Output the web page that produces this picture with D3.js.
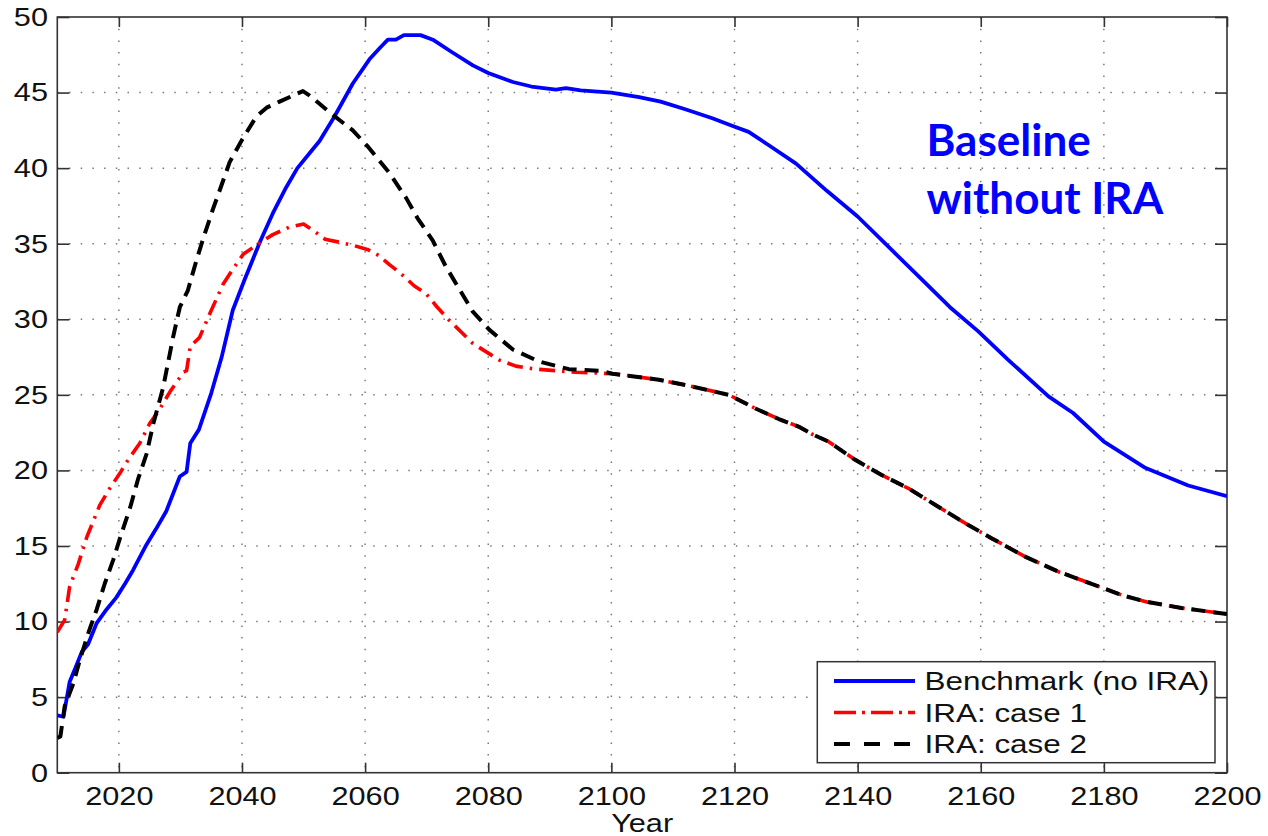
<!DOCTYPE html>
<html>
<head>
<meta charset="utf-8">
<script src="https://cdn.jsdelivr.net/npm/d3@7"></script>
<style>
  html, body { margin: 0; padding: 0; background: #fff; }
  svg { display: block; }
</style>
</head>
<body>
<svg id="chart" width="1268" height="836"></svg>
<script>
// ---------------- DATA ----------------
const xTickValues = [2020, 2040, 2060, 2080, 2100, 2120, 2140, 2160, 2180, 2200];
const yTickValues = [0, 5, 10, 15, 20, 25, 30, 35, 40, 45, 50];
const seriesNames = ["Benchmark (no IRA)", "IRA: case 1", "IRA: case 2"];
const xLabel = "Year";
const annotationLines = ["Baseline", "without IRA"];

const benchmarkYears = [2010, 2011, 2012, 2013, 2014, 2015, 2016.4, 2018, 2019.6, 2021, 2022.3, 2024.5, 2026, 2027.7, 2029.9, 2031, 2031.6, 2033, 2035, 2036.7, 2038.5, 2040.4, 2043, 2045, 2047, 2049, 2051, 2052.6, 2055, 2058, 2060.7, 2062.5, 2063.7, 2065, 2066.3, 2069, 2071, 2074, 2077.5, 2080, 2084, 2087, 2091, 2092.6, 2095, 2100, 2104.5, 2108, 2112, 2116.4, 2119.6, 2122.3, 2126, 2130, 2135, 2140, 2144.5, 2150, 2155, 2159.6, 2164.5, 2171, 2175, 2180, 2186.6, 2193.7, 2200];
const benchmarkValues = [3.8, 3.7, 6.0, 7.0, 8.0, 8.5, 9.9, 10.8, 11.6, 12.5, 13.4, 15.1, 16.1, 17.3, 19.6, 19.9, 21.8, 22.7, 25.1, 27.5, 30.6, 32.6, 35.2, 37.0, 38.6, 40.0, 41.0, 41.8, 43.4, 45.6, 47.2, 48.0, 48.5, 48.5, 48.8, 48.8, 48.5, 47.7, 46.8, 46.3, 45.7, 45.4, 45.2, 45.3, 45.15, 45.0, 44.7, 44.4, 43.9, 43.3, 42.8, 42.4, 41.4, 40.3, 38.5, 36.8, 35.0, 32.8, 30.8, 29.2, 27.3, 24.9, 23.8, 21.9, 20.2, 19.0, 18.3];

const case1Years = [2010, 2011.2, 2012, 2013.4, 2014.8, 2016.9, 2018.5, 2020.3, 2021.5, 2023.4, 2025, 2026.4, 2028.3, 2030.5, 2031, 2031.6, 2033.1, 2034.8, 2036.9, 2038.5, 2040.2, 2042.3, 2045, 2047.7, 2050, 2051.5, 2053.5, 2055.8, 2058, 2060.5, 2062.3, 2064, 2065.6, 2068, 2069.9, 2071.5, 2073.5, 2077.5, 2081.8, 2084.5, 2087.7, 2094.2, 2100.2, 2107.7, 2112.6, 2119.1, 2123.4, 2127.2, 2130.4, 2132.6, 2135.3, 2139.6, 2143.9, 2148.3, 2153.1, 2157.5, 2161.8, 2167.2, 2172.6, 2178, 2182.9, 2187, 2192.6, 2200];
const case1Values = [9.3, 10.1, 12.3, 13.8, 15.6, 17.7, 18.8, 19.9, 20.7, 21.8, 23.1, 23.9, 25.2, 26.5, 26.6, 28.2, 28.8, 30.4, 32.3, 33.3, 34.3, 34.9, 35.6, 36.1, 36.3, 35.9, 35.3, 35.1, 34.9, 34.6, 34.2, 33.6, 33.1, 32.2, 31.7, 30.9, 30.0, 28.4, 27.3, 26.9, 26.7, 26.5, 26.4, 26.0, 25.6, 25.0, 24.1, 23.4, 22.9, 22.4, 21.9, 20.7, 19.7, 18.8, 17.6, 16.5, 15.5, 14.3, 13.3, 12.5, 11.75, 11.3, 10.9, 10.5];

const case2Years = [2010, 2010.5, 2011.2, 2012.6, 2013.7, 2015, 2016.4, 2017.7, 2019.1, 2020.4, 2021.8, 2023.1, 2024.5, 2025.6, 2027.2, 2028.8, 2029.9, 2031.2, 2032.6, 2033.9, 2035.3, 2036.7, 2038, 2039.9, 2042.3, 2044, 2046.1, 2049.9, 2051, 2054.5, 2058, 2060.5, 2063.9, 2066.7, 2068.5, 2071, 2073.1, 2075.3, 2077.5, 2080.2, 2084, 2088.3, 2093.1, 2098, 2100.2, 2107.7, 2112.6, 2119.1, 2123.4, 2127.2, 2130.4, 2132.6, 2135.3, 2139.6, 2143.9, 2148.3, 2153.1, 2157.5, 2161.8, 2167.2, 2172.6, 2178, 2182.9, 2187, 2192.6, 2200];
const case2Values = [2.3, 2.4, 4.4, 5.9, 7.5, 9.2, 10.8, 12.5, 14.1, 15.8, 17.5, 19.4, 21.1, 23.1, 25.5, 28.8, 30.8, 31.9, 33.9, 35.6, 37.3, 38.9, 40.4, 41.8, 43.4, 44.0, 44.4, 45.1, 44.8, 43.6, 42.5, 41.4, 39.7, 38.0, 36.7, 35.2, 33.5, 32.0, 30.5, 29.3, 28.0, 27.2, 26.7, 26.6, 26.4, 26.0, 25.6, 25.0, 24.1, 23.4, 22.9, 22.4, 21.9, 20.7, 19.7, 18.8, 17.6, 16.5, 15.5, 14.3, 13.3, 12.5, 11.75, 11.3, 10.9, 10.5];

// ---------------- LAYOUT ----------------
const svg = d3.select("#chart");
const L = 57.3, R = 1227, T = 17, B = 772.7;
const x = d3.scaleLinear().domain([2010, 2200]).range([L, R]);
const y = d3.scaleLinear().domain([0, 50]).range([B, T]);
const FONT = "'Liberation Sans', Arial, sans-serif";
const SX = 1.18;
const SXL = 1.21;

// grid
const grid = svg.append("g").attr("stroke", "#7a7a7a").attr("stroke-width", 1.5).attr("stroke-dasharray", "1.5,10.2");
grid.selectAll("line.v").data(xTickValues.filter(v => v < 2200)).enter().append("line")
  .attr("x1", d => x(d)).attr("x2", d => x(d)).attr("y1", T).attr("y2", B);
grid.selectAll("line.h").data(yTickValues.filter(v => v > 0 && v < 50)).enter().append("line")
  .attr("y1", d => y(d)).attr("y2", d => y(d)).attr("x1", L).attr("x2", R);

// axes (inward ticks, MATLAB style)
function styleAxis(g) {
  g.select(".domain").remove();
  g.selectAll(".tick line").attr("stroke", "#333").attr("stroke-width", 1.6);
  g.selectAll("text").attr("font-family", FONT).attr("font-size", 26).attr("fill", "#111");
}
const gx = svg.append("g").attr("transform", `translate(0,${B})`)
  .call(d3.axisBottom(x).tickValues(xTickValues).tickFormat(d3.format("d")).tickSizeInner(-10).tickSizeOuter(0).tickPadding(14));
styleAxis(gx);
gx.selectAll("text").attr("transform", `scale(${SX},1)`);

const gxt = svg.append("g").attr("transform", `translate(0,${T})`)
  .call(d3.axisTop(x).tickValues(xTickValues).tickFormat("").tickSizeInner(-10).tickSizeOuter(0));
styleAxis(gxt);

const gy = svg.append("g").attr("transform", `translate(${L},0)`)
  .call(d3.axisLeft(y).tickValues(yTickValues).tickFormat(d3.format("d")).tickSizeInner(-12).tickSizeOuter(0).tickPadding(7.9));
styleAxis(gy);
gy.selectAll("text").attr("transform", `scale(${SX},1)`);

const gyr = svg.append("g").attr("transform", `translate(${R},0)`)
  .call(d3.axisRight(y).tickValues(yTickValues).tickFormat("").tickSizeInner(-12).tickSizeOuter(0));
styleAxis(gyr);

// frame
svg.append("rect").attr("x", L).attr("y", T).attr("width", R - L).attr("height", B - T)
  .attr("fill", "none").attr("stroke", "#333").attr("stroke-width", 1.6);

// x label
svg.append("text").attr("transform", `translate(${(L + R) / 2},832) scale(${SX},1)`)
  .attr("text-anchor", "middle").attr("font-family", FONT).attr("font-size", 26).attr("fill", "#111").text(xLabel);

// lines
const clip = svg.append("clipPath").attr("id", "plotclip").append("rect")
  .attr("x", L).attr("y", T).attr("width", R - L).attr("height", B - T);
const line = d3.line().x(d => x(d[0])).y(d => y(d[1]));
const series = [
  { years: benchmarkYears, values: benchmarkValues, color: "#0000ff", dash: null, width: 3.8 },
  { years: case1Years, values: case1Values, color: "#ff0000", dash: "16,7,2.5,7", width: 3.6 },
  { years: case2Years, values: case2Values, color: "#000000", dash: "14,8", width: 4 }
];
const lines = svg.append("g").attr("clip-path", "url(#plotclip)");
series.forEach(s => {
  lines.append("path")
    .datum(d3.zip(s.years, s.values))
    .attr("d", line)
    .attr("fill", "none")
    .attr("stroke", s.color)
    .attr("stroke-width", s.width)
    .attr("stroke-linejoin", "round")
    .attr("stroke-dasharray", s.dash);
});

// legend
const lg = svg.append("g");
lg.append("rect").attr("x", 817.3).attr("y", 661.7).attr("width", 1215 - 817.3).attr("height", 762.7 - 661.7)
  .attr("fill", "#fff").attr("stroke", "#333").attr("stroke-width", 1.5);
const legendLineY = [681, 712.5, 744];
const legendDash = [null, "22,6,3,6", "16,14"];
series.forEach((s, i) => {
  lg.append("line").attr("x1", 834).attr("x2", 915).attr("y1", legendLineY[i]).attr("y2", legendLineY[i])
    .attr("stroke", s.color).attr("stroke-width", s.width).attr("stroke-dasharray", legendDash[i]);
  lg.append("text").attr("transform", `translate(924.5,${legendLineY[i] + 9}) scale(${SXL},1)`)
    .attr("font-family", FONT).attr("font-size", 26).attr("fill", "#111").text(seriesNames[i]);
});

// annotation
const ann = svg.append("text").attr("font-family", "Lato, 'Open Sans', sans-serif").attr("font-weight", "bold")
  .attr("font-size", 44).attr("fill", "#0000ff");
annotationLines.forEach((t, i) => {
  ann.append("tspan").attr("x", 926.5).attr("y", 156 + i * 58).text(t);
});
</script>
</body>
</html>
